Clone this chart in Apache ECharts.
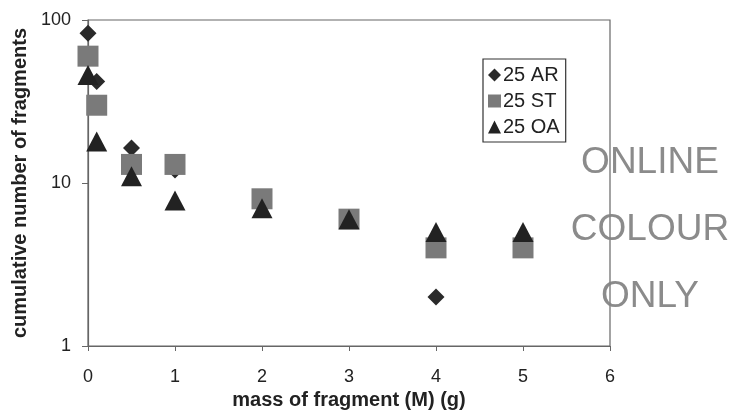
<!DOCTYPE html>
<html><head><meta charset="utf-8">
<script src="https://cdn.jsdelivr.net/npm/echarts@6/dist/echarts.min.js"></script>
<style>html,body{margin:0;padding:0;background:#fff}#c{width:732px;height:419px}</style>
</head><body><div id="c"></div>
<script>
const seriesNames = ['25 AR', '25 ST', '25 OA'];
const arX = [0, 0.1, 0.5, 1, 2, 3, 4];
const arY = [83, 42, 16.4, 12, 8, 6, 2];
const stX = [0, 0.1, 0.5, 1, 2, 3, 4, 5];
const stY = [60, 30, 13, 13, 8, 6, 4, 4];
const oaX = [0, 0.1, 0.5, 1, 2, 3, 4, 5];
const oaY = [46, 18, 11, 7.8, 7, 6, 5, 5];
const xTicks = [0, 1, 2, 3, 4, 5, 6];
const watermark = ['ONLINE', 'COLOUR', 'ONLY'];

const pair = (xs, ys) => xs.map((x, i) => [x, ys[i]]);
const font = 'Liberation Sans, Arial, sans-serif';
const chart = echarts.init(document.getElementById('c'), null, {renderer: 'canvas'});
chart.setOption({
  animation: false,
  backgroundColor: '#fff',
  grid: {left: 88, right: 122, top: 20, bottom: 73, show: true, borderColor: '#666', borderWidth: 1.2, backgroundColor: 'transparent'},
  xAxis: {
    type: 'value', min: xTicks[0], max: xTicks[xTicks.length - 1], interval: 1,
    name: 'mass of fragment (M) (g)', nameLocation: 'middle', nameGap: 43,
    nameTextStyle: {fontFamily: font, fontSize: 20, fontWeight: 'bold', color: '#222'},
    axisLine: {lineStyle: {color: '#666', width: 1.2}},
    axisTick: {show: true, length: 5, lineStyle: {color: '#666'}},
    axisLabel: {fontFamily: font, fontSize: 18, color: '#222', margin: 22},
    splitLine: {show: false}
  },
  yAxis: {
    type: 'log', logBase: 10, min: 1, max: 100,
    name: 'cumulative number of fragments', nameLocation: 'middle', nameGap: 57,
    nameTextStyle: {fontFamily: font, fontSize: 20, fontWeight: 'bold', color: '#222'},
    axisLine: {show: true, lineStyle: {color: '#666', width: 1.2}},
    axisTick: {show: true, length: 6, lineStyle: {color: '#666'}},
    minorTick: {show: false},
    axisLabel: {fontFamily: font, fontSize: 18, color: '#222', margin: 17},
    splitLine: {show: false}
  },
  legend: {
    orient: 'vertical', left: 483, top: 59,
    padding: [6, 6, 5, 5], itemGap: 6, itemWidth: 13, itemHeight: 13,
    borderColor: '#333', borderWidth: 1.2, backgroundColor: '#fff',
    textStyle: {fontFamily: font, fontSize: 20, color: '#222', padding: [0, 0, 0, -3]},
    data: seriesNames
  },
  series: [
    {name: seriesNames[0], type: 'scatter', symbol: 'diamond', symbolSize: 17, z: 2,
      itemStyle: {color: '#2a2a2a', opacity: 1}, data: pair(arX, arY)},
    {name: seriesNames[1], type: 'scatter', symbol: 'rect', symbolSize: 21, z: 3,
      itemStyle: {color: '#7a7a7a', opacity: 1}, data: pair(stX, stY)},
    {name: seriesNames[2], type: 'scatter', symbol: 'triangle', symbolSize: [21, 20], z: 4,
      itemStyle: {color: '#222', opacity: 1}, data: pair(oaX, oaY)}
  ],
  graphic: watermark.map((t, i) => ({
    type: 'text', z: 10, x: 650, y: 163 + i * 67,
    style: {text: t, fill: '#858585', font: '37px ' + font, align: 'center', verticalAlign: 'middle', opacity: 0.95}
  }))
});
</script></body></html>
